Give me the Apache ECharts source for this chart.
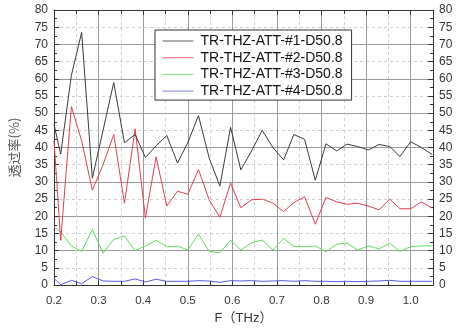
<!DOCTYPE html>
<html>
<head>
<meta charset="utf-8">
<script src="https://cdn.jsdelivr.net/npm/echarts@6/dist/echarts.min.js"></script>
<style>html,body{margin:0;padding:0;background:#fff;}#c{width:456px;height:330px;}</style>
</head>
<body>
<div id="c"></div>
<script>
var freq = [0.200,0.215,0.239,0.262,0.286,0.310,0.334,0.358,0.382,0.405,0.429,0.453,0.477,0.500,0.524,0.548,0.572,0.596,0.619,0.643,0.667,0.691,0.715,0.738,0.762,0.786,0.810,0.834,0.857,0.881,0.905,0.929,0.953,0.976,1.000,1.024,1.048];
var att1 = [46.7,38.1,61,73.5,31.1,45,58.9,41.4,43.8,37.1,40.5,43.5,35.5,41.4,49.3,37,28.8,45.9,33.5,39,45,40,36.4,43.8,42.4,30.5,41.1,39,41,40.3,39.3,40.9,40.3,37.4,41.7,40,38];
var att2 = [42,13,51.9,42,27.6,35,43.8,23.8,45.4,19.5,37.3,23,27.3,26.4,33.6,24.8,19.7,29.7,22.5,24.8,25,23.8,21.4,24,25.7,17.7,25.5,24.2,23.5,23.8,23,21.9,25,22.2,22.2,24.2,22.4];
var att3 = [17,15.5,11.4,9.8,16.2,9.3,13.3,14.3,10,11.4,13,11.1,11.4,10.2,14.8,9.8,9.4,13,10.2,12.3,13.1,10.2,13.6,11.2,11.2,11.4,9.7,11.9,12.2,10.2,11.4,10.5,12.2,9.8,11.2,11.4,11.4];
var att4 = [1.9,0.1,1.4,0.4,2.5,1.2,1.1,1.1,1.8,0.9,1.7,1.1,1.1,1.1,1.3,1.2,0.8,1.3,1.2,1.3,1.1,1.2,1.3,1.1,1.3,1.1,1.1,1.0,1.1,1.0,1.1,1.2,1.4,1.1,1.1,1.1,1.1];
var names = ['TR-THZ-ATT-#1-D50.8','TR-THZ-ATT-#2-D50.8','TR-THZ-ATT-#3-D50.8','TR-THZ-ATT-#4-D50.8'];
var colors = ['#3a3a3a','#e2404f','#5fdc5f','#5a5ae6'];
var xTitle = 'F（THz）';
var yTitle = '透过率(%)';

function pairs(v){ return freq.map(function(f,i){ return [f, v[i]]; }); }
var font = 'Liberation Sans, Arial, sans-serif';
var axisCol = '#333';

var chart = echarts.init(document.getElementById('c'));
var xBase = {
  type:'value', min:0.2, max:1.05, interval:0.1,
  axisLine:{show:true, onZero:false, lineStyle:{color:axisCol, width:1}},
  axisTick:{show:true, inside:true, length:5, lineStyle:{color:axisCol}},
  minorTick:{show:true, splitNumber:2, length:4, lineStyle:{color:axisCol}}
};
var yBase = {
  type:'value', min:0, max:80, interval:5,
  axisLine:{show:true, onZero:false, lineStyle:{color:axisCol, width:1}},
  axisTick:{show:true, inside:true, length:5, lineStyle:{color:axisCol}},
  minorTick:{show:true, splitNumber:2, length:3, lineStyle:{color:axisCol}},
  splitLine:{show:false}
};
var option = {
  animation:false,
  backgroundColor:'#fff',
  grid:{left:52, right:23, top:10, bottom:40, containLabel:false},
  legend:{
    orient:'vertical', left:155, top:30,
    data:names,
    itemWidth:31, itemHeight:14, itemGap:2.7,
    padding:[4,9,2,7],
    backgroundColor:'#fff', borderColor:'#333', borderWidth:1,
    itemStyle:{opacity:0, borderWidth:0},
    lineStyle:{width:1, opacity:0.8},
    textStyle:{fontFamily:font, fontSize:14, color:'#111', padding:[0,0,0,2]}
  },
  xAxis:[
    Object.assign({}, xBase, {
      position:'bottom',
      axisLabel:{show:true, fontFamily:font, fontSize:11.5, color:'#333', margin:10, showMaxLabel:false,
        formatter:function(v){ return v.toFixed(1); }},
      splitLine:{show:true, lineStyle:{color:'#9a9a9a', width:1}},
      minorSplitLine:{show:true, lineStyle:{color:'#cfcfcf', width:1, type:[3,3]}},
      name:xTitle, nameLocation:'middle', nameGap:24,
      nameTextStyle:{fontFamily:'Liberation Sans, Noto Sans CJK SC, sans-serif', fontSize:13, color:'#333'}
    }),
    Object.assign({}, xBase, {
      position:'top',
      axisLabel:{show:false},
      splitLine:{show:false}
    })
  ],
  yAxis:[
    Object.assign({}, yBase, {
      position:'left',
      axisLabel:{show:true, fontFamily:font, fontSize:12, color:'#333', margin:6},
      name:yTitle, nameLocation:'middle', nameGap:33,
      nameTextStyle:{fontFamily:'Noto Sans CJK SC, sans-serif', fontSize:13, color:'#555'}
    }),
    Object.assign({}, yBase, {
      position:'right',
      axisLabel:{show:true, fontFamily:font, fontSize:12, color:'#333', margin:6}
    }),
    {
      type:'value', min:0, max:80, interval:10, position:'left',
      axisLine:{show:false}, axisTick:{show:false}, axisLabel:{show:false},
      splitLine:{show:true, lineStyle:{color:'#9a9a9a', width:1}},
      minorTick:{show:false, splitNumber:2},
      minorSplitLine:{show:true, lineStyle:{color:'#cfcfcf', width:1, type:[3,3]}}
    }
  ],
  series:[att1,att2,att3,att4].map(function(d,i){
    return {
      name:names[i], type:'line', xAxisIndex:0, yAxisIndex:0,
      data:pairs(d), symbol:'none', showSymbol:false,
      lineStyle:{color:colors[i], width:1}, itemStyle:{color:colors[i]},
      clip:true, z:3+ (3-i)
    };
  })
};
chart.setOption(option);
</script>
</body>
</html>
